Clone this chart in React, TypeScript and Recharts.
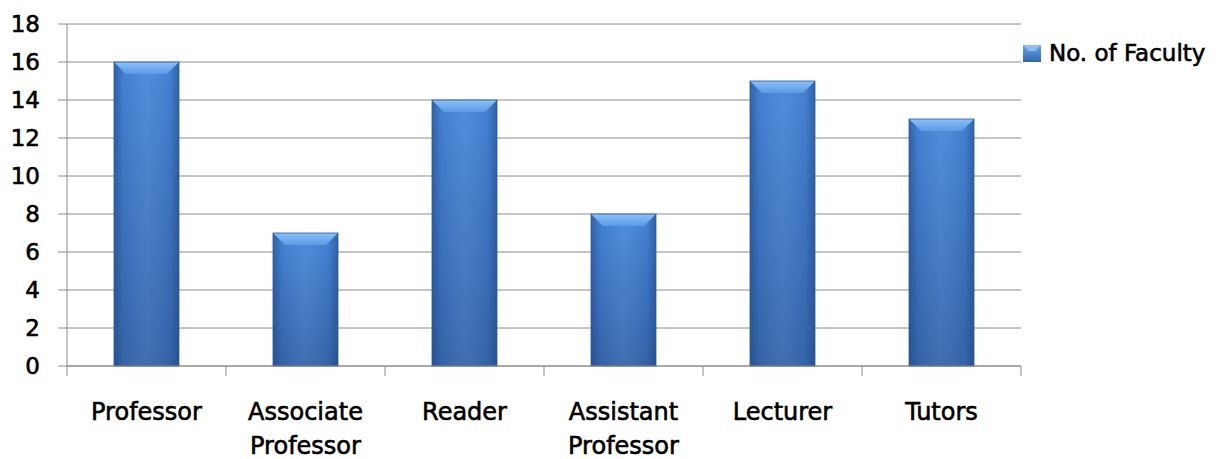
import React from "react";
import { BarChart, Bar, XAxis, YAxis, CartesianGrid, Legend } from "recharts";

const categories = ["Professor", "Associate Professor", "Reader", "Assistant Professor", "Lecturer", "Tutors"];
const faculty = [16, 7, 14, 8, 15, 13];
const yTicks = [0, 2, 4, 6, 8, 10, 12, 14, 16, 18];
const seriesName = "No. of Faculty";

const data = categories.map((name, i) => ({ name, value: faculty[i] }));

const FONT = "'DejaVu Sans', sans-serif";
const GRID = "#8c8c8c";
const TEXT_STROKE = 0.6;

const BevelBar = (props: any) => {
  const { x, y, width, height } = props;
  if (!height || height <= 0) return null;
  const b = Math.min(12, height / 2);
  return (
    <g>
      <rect x={x} y={y} width={width} height={height} fill="url(#barBody)" />
      <rect x={x} y={y} width={width} height={height} fill="url(#barSides)" />
      <polygon
        points={`${x},${y} ${x + width},${y} ${x + width - b},${y + b} ${x + b},${y + b}`}
        fill="url(#barTop)"
      />
      <rect x={x} y={y} width={width} height={height} fill="none" stroke="#2b5a9c" strokeWidth={0.8} />
    </g>
  );
};

const XTick = (props: any) => {
  const { x, y, payload, index } = props;
  const half = payload.offset || 0;
  const words = String(payload.value).split(" ");
  const lines = words.length > 1 ? words : [payload.value];
  return (
    <g>
      <line x1={x - half} y1={y} x2={x - half} y2={y + 10} stroke={GRID} strokeWidth={1} />
      {index === categories.length - 1 && (
        <line x1={x + half} y1={y} x2={x + half} y2={y + 10} stroke={GRID} strokeWidth={1} />
      )}
      {lines.map((l: string, i: number) => (
        <text
          key={i}
          x={x}
          y={y + 54 + i * 34}
          textAnchor="middle"
          fontFamily={FONT}
          fontSize={24}
          fill="#000"
          stroke="#000"
          strokeWidth={TEXT_STROKE}
        >
          {l}
        </text>
      ))}
    </g>
  );
};

const LegendBox = () => (
  <div style={{ display: "flex", alignItems: "center", fontFamily: FONT, fontSize: 23, color: "#000", paddingLeft: 2 }}>
    <svg width={18} height={17} style={{ marginRight: 8 }}>
      <defs>
        <linearGradient id="legGrad" x1="0" y1="0" x2="0" y2="1">
          <stop offset="0%" stopColor="#6aa4ee" />
          <stop offset="100%" stopColor="#3467ad" />
        </linearGradient>
      </defs>
      <rect x={0} y={0} width={18} height={17} fill="url(#legGrad)" />
      <polygon points="0,0 18,0 12,6 6,6" fill="#9cc6f7" opacity={0.8} />
    </svg>
    <span style={{ WebkitTextStroke: `${TEXT_STROKE}px #000`, whiteSpace: "nowrap" }}>{seriesName}</span>
  </div>
);

export default function App() {
  return (
    <div style={{ position: "absolute", left: 0, top: 0, width: 1221, height: 459, background: "#fff" }}>
      <BarChart width={1221} height={459} data={data} margin={{ top: 24, right: 5, bottom: 0, left: 0 }}>
        <defs>
          <linearGradient id="barBody" x1="0" y1="0" x2="0" y2="1">
            <stop offset="0%" stopColor="#4686da" />
            <stop offset="100%" stopColor="#3565ab" />
          </linearGradient>
          <linearGradient id="barSides" x1="0" y1="0" x2="1" y2="0">
            <stop offset="0%" stopColor="#1c3f73" stopOpacity={0.5} />
            <stop offset="14%" stopColor="#1c3f73" stopOpacity={0.08} />
            <stop offset="50%" stopColor="#ffffff" stopOpacity={0.06} />
            <stop offset="86%" stopColor="#1c3f73" stopOpacity={0.08} />
            <stop offset="100%" stopColor="#1c3f73" stopOpacity={0.5} />
          </linearGradient>
          <linearGradient id="barTop" x1="0" y1="0" x2="0" y2="1">
            <stop offset="0%" stopColor="#8cc0f7" />
            <stop offset="100%" stopColor="#5c9ae6" />
          </linearGradient>
        </defs>
        <CartesianGrid vertical={false} stroke={GRID} strokeWidth={1} />
        <XAxis
          dataKey="name"
          height={93}
          tickLine={false}
          tickSize={0}
          tickMargin={0}
          axisLine={{ stroke: GRID }}
          tick={<XTick />}
          interval={0}
        />
        <YAxis
          width={67}
          domain={[0, 18]}
          ticks={yTicks}
          interval={0}
          tickSize={9}
          tickMargin={18}
          tickLine={{ stroke: GRID }}
          axisLine={{ stroke: GRID }}
          tick={{ fontFamily: FONT, fontSize: 23, fill: "#000", stroke: "#000", strokeWidth: TEXT_STROKE }}
        />
        <Legend
          layout="vertical"
          align="right"
          verticalAlign="top"
          content={<LegendBox />}
          wrapperStyle={{ width: 195, top: 40 }}
        />
        <Bar dataKey="value" name={seriesName} barSize={65} shape={<BevelBar />} isAnimationActive={false} />
      </BarChart>
    </div>
  );
}
